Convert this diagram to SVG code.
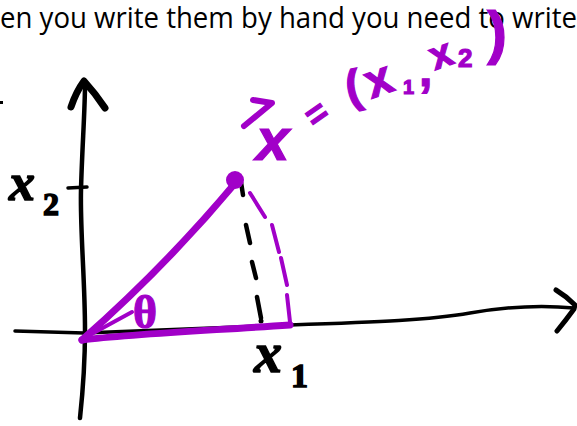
<svg xmlns="http://www.w3.org/2000/svg" width="577" height="426" viewBox="0 0 577 426">
<style>
.ink{fill:none;stroke:#000;stroke-linecap:round;stroke-linejoin:round}
.pur{fill:none;stroke:#a100c8;stroke-linecap:round;stroke-linejoin:round}
.hb{font-family:"Liberation Serif","DejaVu Serif",serif;font-style:italic;font-weight:bold;fill:#000;stroke:#000;stroke-width:1.5}
.hp{font-family:"Liberation Sans","DejaVu Sans",sans-serif;font-weight:bold;fill:#a100c8;stroke:#a100c8;stroke-width:1.2}
</style>
<rect width="577" height="426" fill="#fff"/>
<text x="0" y="28" font-family="'Open Sans','Liberation Sans',sans-serif" font-size="29" fill="#000" textLength="577" lengthAdjust="spacingAndGlyphs">en you write them by hand you need to write</text>
<rect x="0" y="101" width="3" height="3" fill="#000"/>
<g id="y-axis">
<path class="ink" stroke-width="4.5" d="M80,418 C83,390 85,360 85,330 C85,280 80,230 81,190 C82,150 85,110 85,84"/>
<path class="ink" stroke-width="7" d="M71,107 Q76,92 84,81 Q95,93 105,108"/>
<path class="ink" stroke-width="3.5" d="M68,188 L87,187"/>
</g>
<g id="x-axis">
<path class="ink" stroke-width="3.5" d="M15,331 L84,333 L290,325 C380,322 430,320 470,313 C510,306 545,305 574,308"/>
<path class="ink" stroke-width="5" d="M556,290 Q566,296 575,305 L574,309 Q566,320 557,331"/>
</g>
<g id="projection">
<path class="ink" stroke-width="4.5" d="M241,182 L243,195 M246,225 L250,243 M252,262 L256,278 M257,297 L261,318"/>
<circle cx="261" cy="321" r="2.5" fill="#000"/>
<path class="pur" stroke-width="4" d="M250,193 L265,217 M272,225 L279,252 M281,258 L287,285 M287,295 L290,322"/>
</g>
<g id="vector">
<path class="pur" stroke-width="7" d="M82,340 C130,334 200,331 290,325"/>
<path class="pur" stroke-width="7" d="M82,340 Q166,266 237,181"/>
<path class="pur" stroke-width="4" d="M88,336 L132,312"/>
<circle cx="235" cy="180" r="9" fill="#a100c8"/>
<text class="hp" x="145" y="328" font-size="46" text-anchor="middle" style="font-family:'Liberation Serif',serif">θ</text>
</g>
<g id="labels">
<text class="hb" x="9" y="200" font-size="52">x</text>
<text class="hb" x="43" y="215" font-size="32" style="font-style:normal">2</text>
<text class="hb" x="254" y="372" font-size="56">x</text>
<text class="hb" x="291" y="387" font-size="34" style="font-style:normal">1</text>
</g>
<g id="formula">
<path class="pur" stroke-width="6" d="M253,100 L272,103 L244,126"/>
<text class="hp" x="256" y="160" font-size="60" style="font-style:italic">x</text>
<text class="hp" x="316" y="126" font-size="36" text-anchor="middle" transform="rotate(-35 316 113)">=</text>
<text class="hp" x="346" y="102" font-size="46" transform="rotate(-12 355 90)">(</text>
<text class="hp" x="366" y="95" font-size="48" transform="rotate(-20 380 82)">x</text>
<text class="hp" x="403" y="94" font-size="20">1</text>
<text class="hp" x="419" y="86" font-size="48">,</text>
<text class="hp" x="430" y="66" font-size="40" transform="rotate(-20 445 55)">x</text>
<text class="hp" x="458" y="67" font-size="26">2</text>
<text class="hp" x="487" y="53" font-size="60">)</text>
</g>
</svg>
